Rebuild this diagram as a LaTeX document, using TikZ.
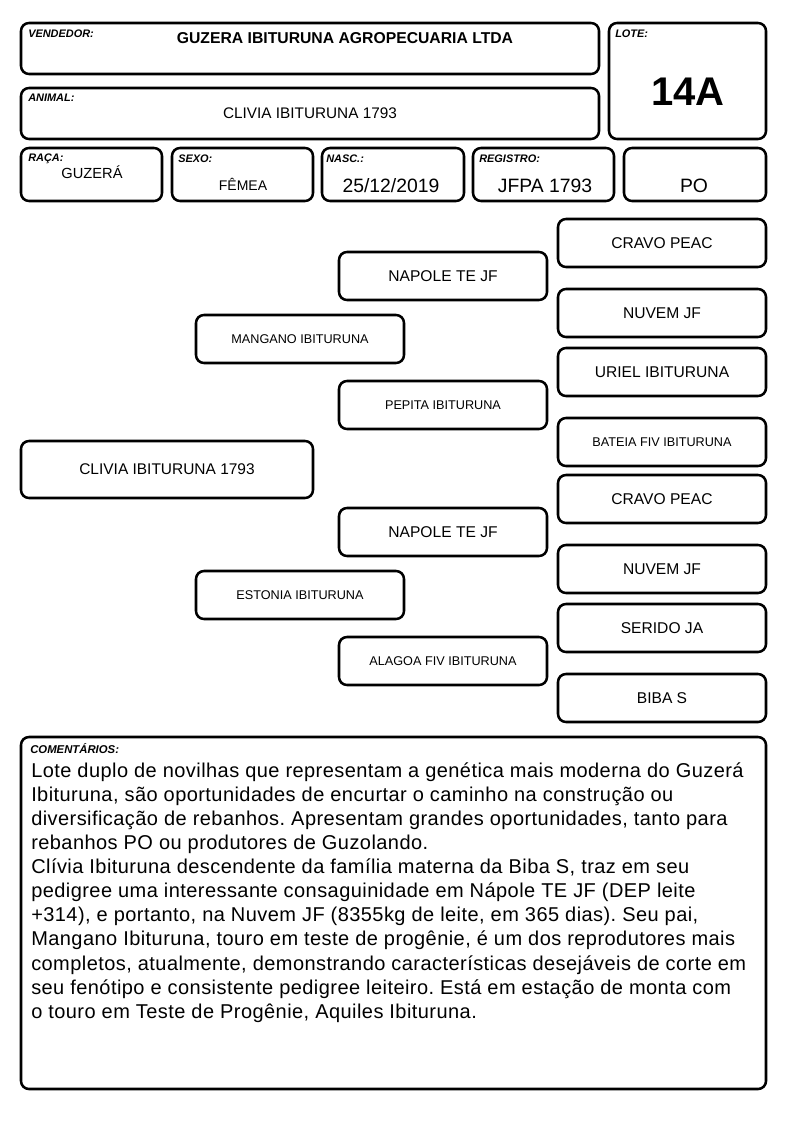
\documentclass[tikz,border=0pt]{standalone}
\usepackage{fontspec}
\setmainfont{Liberation Sans}
\frenchspacing
\begin{document}
\begin{tikzpicture}[x=0.75pt,y=-0.75pt,
  box/.style={draw=black,line width=1.9pt,rounded corners=6pt,inner sep=0pt,align=center},
  lbl/.style={anchor=north west,inner sep=0pt,font=\fontsize{8.2}{9}\selectfont\bfseries\itshape},
  txt/.style={inner sep=0pt,anchor=center},
  ped/.style={font=\fontsize{11.7}{13}\selectfont},
  peds/.style={font=\fontsize{9.5}{11}\selectfont}]
\newcommand\bx[7][]{\node[box,#1,minimum width={(#4-#2)*0.75pt},minimum height={(#5-#3)*0.75pt}] (#7) at ({(#2+#4)/2},{(#3+#5)/2}) {#6};}
\useasboundingbox[fill=white] (0,0) rectangle (794,1123);
% header boxes
\bx{21}{23}{599}{74}{}{vend}
\bx{609}{23}{766}{139}{}{lote}
\bx{21}{88}{599}{139}{}{animal}
\bx{21}{148}{162}{201}{}{raca}
\bx{172}{148}{313}{201}{}{sexo}
\bx{322}{148}{464}{201}{}{nasc}
\bx{473}{148}{614}{201}{}{reg}
\bx{624}{148}{766}{201}{}{po}
% labels
\node[lbl] (lvend) at (28,30) {VENDEDOR:};
\node[lbl] (llote) at (615,30) {LOTE:};
\node[lbl] (lanimal) at (28,94) {ANIMAL:};
\node[lbl] (lraca) at (28,154) {RAÇA:};
\node[lbl] (lsexo) at (178,155) {SEXO:};
\node[lbl] (lnasc) at (326,155) {NASC.:};
\node[lbl] (lreg) at (479,155) {REGISTRO:};
% values
\node[txt,font=\fontsize{11.8}{13}\selectfont\bfseries] (tvend) at (345,38) {GUZERA IBITURUNA AGROPECUARIA LTDA};
\node[txt,font=\fontsize{30}{34}\selectfont\bfseries] (tlote) at (688,92) {14A};
\node[txt,font=\fontsize{11.5}{13}\selectfont] (tanimal) at (310,113) {CLIVIA IBITURUNA 1793};
\node[txt,font=\fontsize{11}{13}\selectfont] (traca) at (92,172) {GUZERÁ};
\node[txt,font=\fontsize{10.5}{13}\selectfont] (tsexo) at (243,184) {FÊMEA};
\node[txt,font=\fontsize{14.5}{16}\selectfont] (tnasc) at (391,186) {25/12/2019};
\node[txt,font=\fontsize{14.5}{16}\selectfont] (treg) at (545,186) {JFPA 1793};
\node[txt,font=\fontsize{14.5}{16}\selectfont] (tpo) at (694,186) {PO};
% pedigree
\bx[font=\fontsize{11.6}{14}\selectfont]{21}{441}{313}{498}{CLIVIA IBITURUNA 1793}{animalp}
\bx[peds]{196}{315}{404}{363}{MANGANO IBITURUNA}{pai}
\bx[peds]{196}{571}{404}{619}{ESTONIA IBITURUNA}{mae}
\bx[ped]{339}{252}{547}{300}{NAPOLE TE JF}{avpp}
\bx[peds]{339}{381}{547}{429}{PEPITA IBITURUNA}{avmp}
\bx[ped]{339}{508}{547}{556}{NAPOLE TE JF}{avpm}
\bx[peds]{339}{637}{547}{685}{ALAGOA FIV IBITURUNA}{avmm}
\bx[ped]{558}{219}{766}{267}{CRAVO PEAC}{b1}
\bx[ped]{558}{289}{766}{337}{NUVEM JF}{b2}
\bx[ped]{558}{348}{766}{396}{URIEL IBITURUNA}{b3}
\bx[peds]{558}{418}{766}{466}{BATEIA FIV IBITURUNA}{b4}
\bx[ped]{558}{475}{766}{523}{CRAVO PEAC}{b5}
\bx[ped]{558}{545}{766}{593}{NUVEM JF}{b6}
\bx[ped]{558}{604}{766}{652}{SERIDO JA}{b7}
\bx[ped]{558}{674}{766}{722}{BIBA S}{b8}
% comments
\bx{21}{737}{766}{1089}{}{coment}
\node[lbl,font=\fontsize{8.5}{9}\selectfont\bfseries\itshape] (lcom) at (30,743) {COMENTÁRIOS:};
\node[anchor=north west,inner sep=0pt,align=left,font=\fontsize{15}{18.1}\selectfont\addfontfeature{LetterSpace=2.2}] (tcom) at (31,762) {Lote duplo de novilhas que representam a genética mais moderna do Guzerá\\
Ibituruna, são oportunidades de encurtar o caminho na construção ou\\
diversificação de rebanhos. Apresentam grandes oportunidades, tanto para\\
rebanhos PO ou produtores de Guzolando.\\
Clívia Ibituruna descendente da família materna da Biba S, traz em seu\\
pedigree uma interessante consaguinidade em Nápole TE JF (DEP leite\\
+314), e portanto, na Nuvem JF (8355kg de leite, em 365 dias). Seu pai,\\
Mangano Ibituruna, touro em teste de progênie, é um dos reprodutores mais\\
completos, atualmente, demonstrando características desejáveis de corte em\\
seu fenótipo e consistente pedigree leiteiro. Está em estação de monta com\\
o touro em Teste de Progênie, Aquiles Ibituruna.};
\end{tikzpicture}
\end{document}
